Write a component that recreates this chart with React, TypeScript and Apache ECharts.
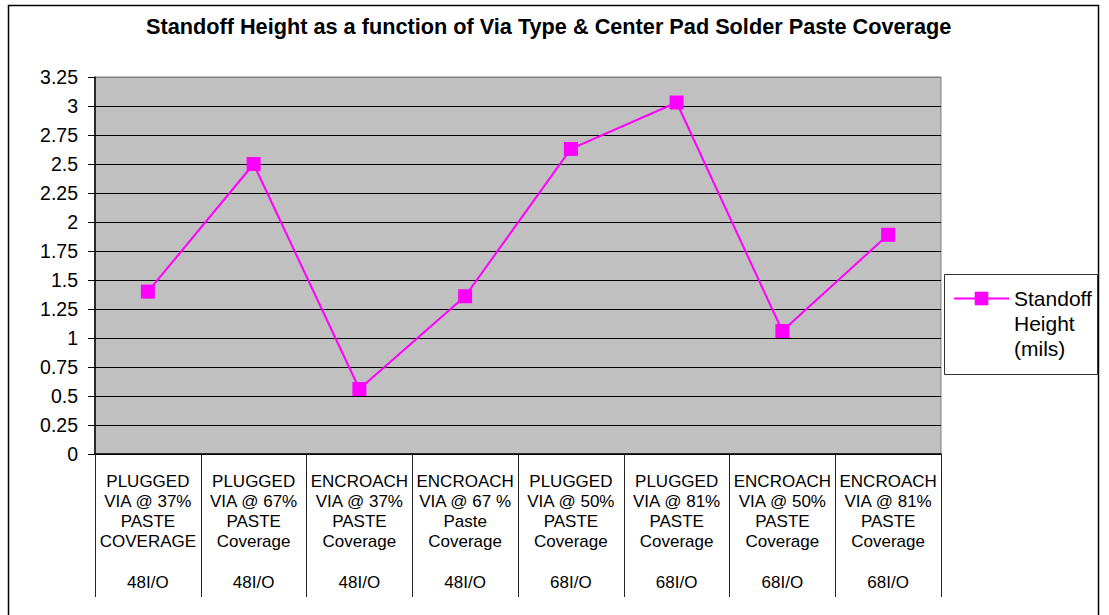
import React, { useEffect, useRef } from "react";
import * as echarts from "echarts";

const categories: string[] = [
  "PLUGGED\nVIA @ 37%\nPASTE\nCOVERAGE",
  "PLUGGED\nVIA @ 67%\nPASTE\nCoverage",
  "ENCROACH\nVIA @ 37%\nPASTE\nCoverage",
  "ENCROACH\nVIA @ 67 %\nPaste\nCoverage",
  "PLUGGED\nVIA @ 50%\nPASTE\nCoverage",
  "PLUGGED\nVIA @ 81%\nPASTE\nCoverage",
  "ENCROACH\nVIA @ 50%\nPASTE\nCoverage",
  "ENCROACH\nVIA @ 81%\nPASTE\nCoverage",
];
const groups: string[] = ["48I/O", "48I/O", "48I/O", "48I/O", "68I/O", "68I/O", "68I/O", "68I/O"];
const standoffHeight: number[] = [1.4, 2.5, 0.56, 1.36, 2.63, 3.03, 1.06, 1.89];
const seriesName = "Standoff Height (mils)";
const legendLines: string[] = ["Standoff", "Height", "(mils)"];
const titleText = "Standoff Height as a function of Via Type & Center Pad Solder Paste Coverage";

const FONT = "'Liberation Sans', Arial, Helvetica, sans-serif";

export default function App() {
  const ref = useRef<HTMLDivElement>(null);
  useEffect(() => {
    if (!ref.current) return;
    const chart = echarts.init(ref.current, undefined, { renderer: "svg" });
    const splitColors: string[] = [];
    for (let i = 0; i < 13; i++) splitColors.push("#000000");
    splitColors.push("#808080");
    chart.setOption({
      animation: false,
      backgroundColor: "#ffffff",
      textStyle: { fontFamily: FONT },
      title: {
        text: titleText,
        left: 146,
        top: 13,
        padding: 0,
        textStyle: { fontFamily: FONT, fontSize: 21.7, fontWeight: "bold", color: "#000", lineHeight: 26 },
      },
      graphic: [
        {
          type: "rect",
          z: -10,
          shape: { x: 8.5, y: 5.5, width: 1090, height: 640 },
          style: { fill: "none", stroke: "#000", lineWidth: 1.5 },
          silent: true,
        },
        {
          type: "rect",
          z: 0,
          shape: { x: 944.5, y: 274.5, width: 153, height: 100 },
          style: { fill: "#ffffff", stroke: "#333", lineWidth: 1 },
          silent: true,
        },
      ],
      legend: {
        left: 953,
        top: 236,
        padding: 0,
        itemWidth: 55,
        itemHeight: 17,
        itemGap: 5,
        formatter: () => "\n\n" + legendLines.join("\n"),
        textStyle: { fontFamily: FONT, fontSize: 21, lineHeight: 25, color: "#000" },
        data: [seriesName],
      },
      grid: {
        left: 95,
        top: 77,
        width: 846,
        height: 377,
        show: true,
        backgroundColor: "#c0c0c0",
        borderColor: "#808080",
        borderWidth: 1,
      },
      xAxis: [
        {
          type: "category",
          data: categories,
          position: "bottom",
          boundaryGap: true,
          axisLine: { show: true, lineStyle: { color: "#000", width: 1.5 } },
          axisTick: { show: true, length: 143, interval: 0, lineStyle: { color: "#222", width: 1 } },
          axisLabel: {
            interval: 0,
            margin: 17,
            fontFamily: FONT,
            fontSize: 17,
            lineHeight: 20,
            color: "#000",
          },
          splitLine: { show: false },
        },
        {
          type: "category",
          data: groups,
          position: "bottom",
          offset: 110,
          boundaryGap: true,
          axisLine: { show: false },
          axisTick: { show: false },
          axisLabel: {
            interval: 0,
            margin: 8,
            fontFamily: FONT,
            fontSize: 17,
            lineHeight: 20,
            color: "#000",
          },
          splitLine: { show: false },
        },
      ],
      yAxis: {
        type: "value",
        min: 0,
        max: 3.25,
        interval: 0.25,
        axisLine: { show: true, lineStyle: { color: "#000", width: 1.5 } },
        axisTick: { show: true, length: 7, lineStyle: { color: "#000" } },
        axisLabel: { margin: 17, fontFamily: FONT, fontSize: 19.5, color: "#000" },
        splitLine: { show: true, lineStyle: { color: splitColors, width: 1 } },
      },
      series: [
        {
          name: seriesName,
          type: "line",
          data: standoffHeight,
          xAxisIndex: 0,
          symbol: "rect",
          symbolSize: 14,
          lineStyle: { color: "#ff00ff", width: 2 },
          itemStyle: { color: "#ff00ff" },
          z: 5,
        },
      ],
    });
    return () => chart.dispose();
  }, []);
  return (
    <div
      ref={ref}
      style={{ position: "absolute", left: 0, top: 0, width: 1109, height: 615 }}
    />
  );
}
